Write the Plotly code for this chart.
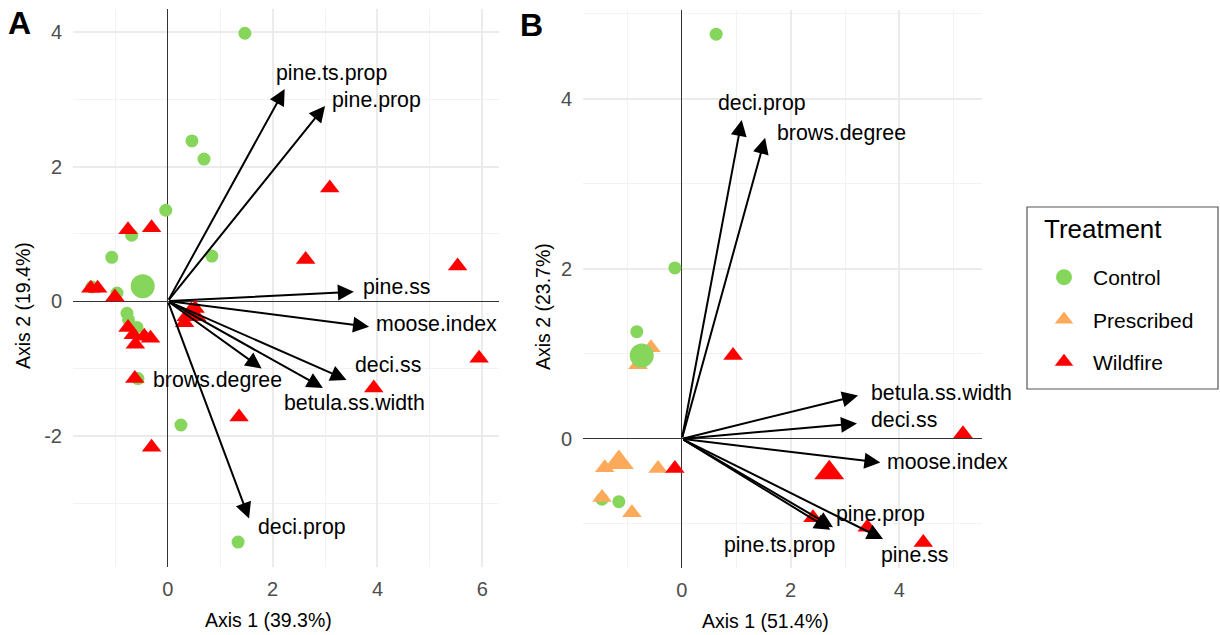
import plotly.graph_objects as go

W, H = 1220, 635

# ---------------- data: panel A ----------------
A_control_x = [1.47, 0.46, 0.69, -0.04, -0.69, 0.84, -1.07, -0.97, -1.45, -0.78, -0.75, -0.59, -0.57, 0.25, 1.34]
A_control_y = [3.98, 2.38, 2.11, 1.35, 0.98, 0.67, 0.65, 0.12, 0.21, -0.18, -0.28, -0.39, -1.15, -1.84, -3.58]
A_wild_x = [3.09, 2.63, 5.53, -0.76, -0.31, -1.47, -1.34, -1.01, -0.76, -0.66, -0.62, -0.45, -0.33, -0.63, 5.94, 3.93, 1.36, -0.31, 0.52, 0.32]
A_wild_y = [1.68, 0.62, 0.52, 1.06, 1.09, 0.19, 0.19, 0.06, -0.39, -0.50, -0.64, -0.52, -0.55, -1.15, -0.85, -1.29, -1.72, -2.17, -0.11, -0.32]
A_centroid_control = (-0.48, 0.22)
A_centroid_wild = (0.45, -0.20)

A_vars = ["pine.ts.prop", "pine.prop", "pine.ss", "moose.index", "deci.ss", "betula.ss.width", "brows.degree", "deci.prop"]
A_vec_x = [2.23, 3.00, 3.55, 3.84, 3.41, 2.96, 1.79, 1.55]
A_vec_y = [3.15, 2.90, 0.14, -0.38, -1.17, -1.29, -1.00, -3.23]
A_lab_x = [3.13, 3.99, 4.37, 5.13, 4.20, 3.57, 0.94, 2.56]
A_lab_y = [3.39, 2.99, 0.21, -0.34, -0.95, -1.52, -1.17, -3.36]

A_xtick_vals = [0, 2, 4, 6]
A_xtick_text = ["0", "2", "4", "6"]
A_ytick_vals = [-2, 0, 2, 4]
A_ytick_text = ["-2", "0", "2", "4"]

# ---------------- data: panel B ----------------
B_control_x = [0.63, -0.13, -0.83, -1.47, -1.16]
B_control_y = [4.76, 2.01, 1.26, -0.71, -0.74]
B_presc_x = [-0.57, -0.81, -1.42, -0.44, -1.47, -0.92]
B_presc_y = [1.07, 0.87, -0.34, -0.35, -0.69, -0.87]
B_wild_x = [0.94, -0.13, 5.17, 2.41, 3.41, 4.44]
B_wild_y = [0.98, -0.35, 0.06, -0.93, -1.04, -1.22]
B_centroid_control = (-0.74, 0.98)
B_centroid_presc = (-1.16, -0.28)
B_centroid_wild = (2.71, -0.40)

B_vars = ["deci.prop", "brows.degree", "betula.ss.width", "deci.ss", "moose.index", "pine.prop", "pine.ts.prop", "pine.ss"]
B_vec_x = [1.10, 1.53, 3.24, 3.22, 3.65, 2.78, 2.73, 3.70]
B_vec_y = [3.75, 3.54, 0.51, 0.18, -0.28, -1.04, -1.07, -1.18]
B_lab_x = [1.47, 2.93, 4.77, 4.09, 4.88, 3.65, 1.79, 4.28]
B_lab_y = [3.95, 3.60, 0.54, 0.22, -0.27, -0.89, -1.25, -1.37]

B_xtick_vals = [0, 2, 4]
B_xtick_text = ["0", "2", "4"]
B_ytick_vals = [0, 2, 4]
B_ytick_text = ["0", "2", "4"]

treatments = ["Control", "Prescribed", "Wildfire"]
colors = {"Control": "#86D65C", "Prescribed": "#FDA95A", "Wildfire": "#FF0000"}
symbols = {"Control": "circle", "Prescribed": "triangle-up", "Wildfire": "triangle-up"}
small_size = {"circle": 13, "triangle-up": 17}
big_size = {"circle": 24, "triangle-up": 26}

FONT = "Liberation Sans, Arial, Helvetica, sans-serif"

def px(x):
    return x / W

def py(y):
    return 1 - y / H

fig = go.Figure()

def add_points(xs, ys, t, xa, ya, big=False):
    sym = symbols[t]
    fig.add_trace(go.Scatter(
        x=xs, y=ys, mode="markers", xaxis=xa, yaxis=ya,
        marker=dict(color=colors[t], symbol=sym,
                    size=(big_size if big else small_size)[sym], line=dict(width=0)),
        showlegend=False, hoverinfo="skip"))

# panel A
add_points(A_control_x, A_control_y, "Control", "x", "y")
add_points(A_wild_x, A_wild_y, "Wildfire", "x", "y")
add_points([A_centroid_control[0]], [A_centroid_control[1]], "Control", "x", "y", big=True)
add_points([A_centroid_wild[0]], [A_centroid_wild[1]], "Wildfire", "x", "y", big=True)
# panel B
add_points(B_control_x, B_control_y, "Control", "x2", "y2")
add_points(B_presc_x, B_presc_y, "Prescribed", "x2", "y2")
add_points(B_wild_x, B_wild_y, "Wildfire", "x2", "y2")
add_points([B_centroid_control[0]], [B_centroid_control[1]], "Control", "x2", "y2", big=True)
add_points([B_centroid_presc[0]], [B_centroid_presc[1]], "Prescribed", "x2", "y2", big=True)
add_points([B_centroid_wild[0]], [B_centroid_wild[1]], "Wildfire", "x2", "y2", big=True)

# legend entries
for i, t in enumerate(treatments):
    fig.add_trace(go.Scatter(
        x=[None], y=[None], mode="markers", name=t, legendgroup=t,
        marker=dict(color=colors[t], symbol=symbols[t], size=16), showlegend=True))

annotations = []

def add_vectors(vx, vy, names, lx, ly, xr, yr):
    for i in range(len(names)):
        annotations.append(dict(
            x=vx[i], y=vy[i], ax=0, ay=0, xref=xr, yref=yr, axref=xr, ayref=yr,
            text="", showarrow=True, arrowhead=2, arrowsize=1.6, arrowwidth=2,
            arrowcolor="black", standoff=0))
        annotations.append(dict(
            x=lx[i], y=ly[i], xref=xr, yref=yr, text=names[i], showarrow=False,
            font=dict(family=FONT, size=21.3, color="black"),
            xanchor="center", yanchor="middle"))

add_vectors(A_vec_x, A_vec_y, A_vars, A_lab_x, A_lab_y, "x", "y")
add_vectors(B_vec_x, B_vec_y, B_vars, B_lab_x, B_lab_y, "x2", "y2")

title_font = dict(family=FONT, size=19.5, color="black")
annotations += [
    dict(x=px(268), y=py(620), xref="paper", yref="paper", text="Axis 1 (39.3%)",
         showarrow=False, font=title_font, xanchor="center", yanchor="middle"),
    dict(x=px(765), y=py(621), xref="paper", yref="paper", text="Axis 1 (51.4%)",
         showarrow=False, font=title_font, xanchor="center", yanchor="middle"),
    dict(x=px(23), y=py(306), xref="paper", yref="paper", text="Axis 2 (19.4%)",
         showarrow=False, font=title_font, textangle=-90, xanchor="center", yanchor="middle"),
    dict(x=px(543), y=py(307), xref="paper", yref="paper", text="Axis 2 (23.7%)",
         showarrow=False, font=title_font, textangle=-90, xanchor="center", yanchor="middle"),
    dict(x=px(19), y=py(23.5), xref="paper", yref="paper", text="<b>A</b>",
         showarrow=False, font=dict(family=FONT, size=32, color="black"),
         xanchor="center", yanchor="middle"),
    dict(x=px(531), y=py(25), xref="paper", yref="paper", text="<b>B</b>",
         showarrow=False, font=dict(family=FONT, size=32, color="black"),
         xanchor="center", yanchor="middle"),
    dict(x=px(1042), y=py(229), xref="paper", yref="paper", text="Treatment",
         showarrow=False, font=dict(family=FONT, size=26, color="black"),
         xanchor="left", yanchor="middle"),
]

tick_font = dict(family=FONT, size=20, color="#4D4D4D")

def axis_common(rng, domain, anchor, is_x, tv, tt):
    return dict(
        range=rng, domain=domain, anchor=anchor,
        tickmode="array", tickvals=tv, ticktext=tt,
        showgrid=True, gridcolor="#EBEBEB", gridwidth=1.6,
        minor=dict(dtick=1, tick0=0, showgrid=True, gridcolor="#F2F2F2", gridwidth=0.9),
        zeroline=True, zerolinecolor="#333333", zerolinewidth=1.2,
        showline=False, ticks="", tickfont=tick_font,
        ticklabelstandoff=8 if is_x else 10,
        fixedrange=True)

fig.update_layout(
    width=W, height=H,
    margin=dict(l=0, r=0, t=0, b=0),
    paper_bgcolor="white", plot_bgcolor="white",
    xaxis=axis_common([-1.81, 6.32], [px(73), px(499)], "y", True, A_xtick_vals, A_xtick_text),
    yaxis=axis_common([-3.95, 4.34], [py(567), py(9)], "x", False, A_ytick_vals, A_ytick_text),
    xaxis2=axis_common([-1.82, 5.52], [px(583), px(982)], "y2", True, B_xtick_vals, B_xtick_text),
    yaxis2=axis_common([-1.52, 5.05], [py(568), py(9.5)], "x2", False, B_ytick_vals, B_ytick_text),
    annotations=annotations,
    showlegend=True,
    legend=dict(
        x=px(1029), y=py(257), xanchor="left", yanchor="top",
        font=dict(family=FONT, size=21, color="black"),
        bgcolor="rgba(0,0,0,0)", borderwidth=0,
        tracegroupgap=12, itemwidth=48, indentation=6,
    ),
    shapes=[dict(type="rect", xref="paper", yref="paper",
                 x0=px(1027), x1=px(1218), y0=py(389), y1=py(207),
                 line=dict(color="#555555", width=1.2), fillcolor="rgba(0,0,0,0)")],
)

fig.write_html("out.html")
